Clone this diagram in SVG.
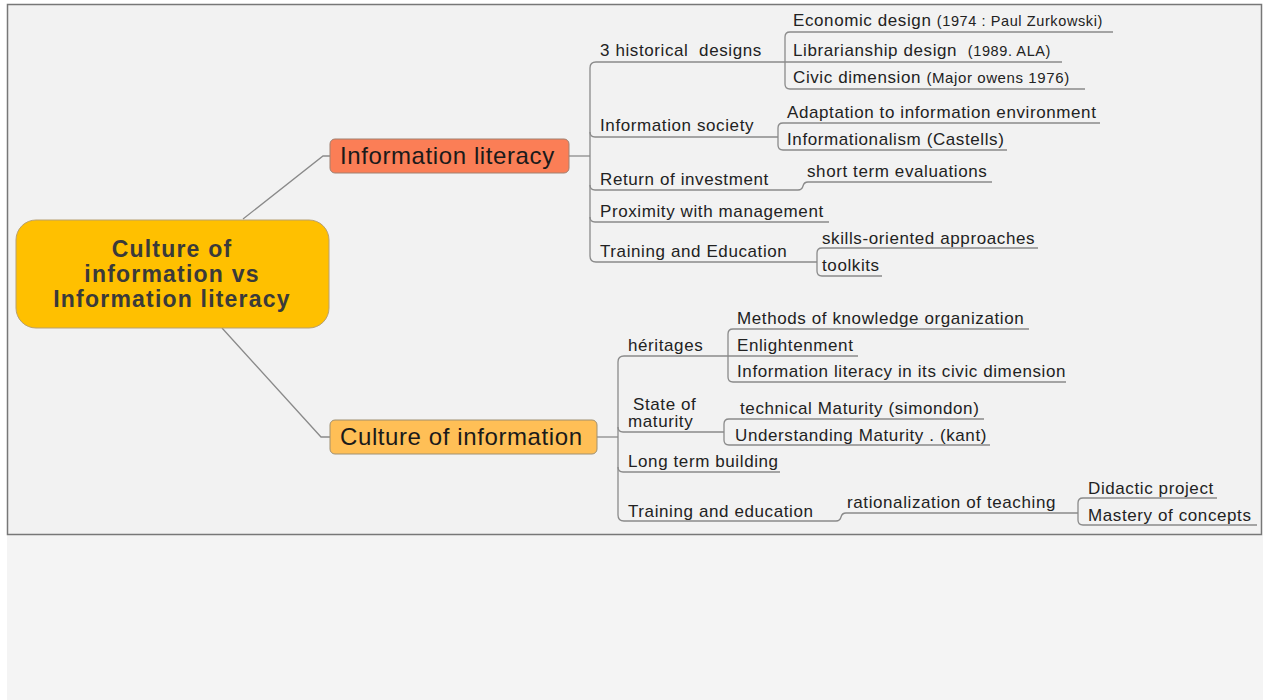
<svg xmlns="http://www.w3.org/2000/svg" width="1263" height="700" viewBox="0 0 1263 700">
<style>
.c{fill:none;stroke:#8a8a8a;stroke-width:1.3}
.t{font-family:"Liberation Sans",Arial,sans-serif;font-size:17px;letter-spacing:0.6px;fill:#222;white-space:pre}
.s{font-size:14.5px}
.n{font-family:"Liberation Sans",Arial,sans-serif;font-size:24px;letter-spacing:0.6px;fill:#1a1a1a}
.r{font-family:"Liberation Sans",Arial,sans-serif;font-size:23px;font-weight:bold;letter-spacing:1.2px;fill:#3a3a3a;text-anchor:middle}
</style>
<rect x="0" y="0" width="1263" height="700" fill="#ffffff"/>
<rect x="7" y="535" width="1256" height="165" fill="#f4f4f4"/>
<rect x="7.5" y="4.5" width="1254" height="530" fill="#f2f2f2" stroke="#777" stroke-width="1.5"/>

<g id="connectors">
  <path class="c" d="M243,219 L323,156 H330"/>
  <path class="c" d="M222,328 L321,437 H330"/>
  <!-- Information literacy branch -->
  <path class="c" d="M569,156 H590"/>
  <path class="c" d="M596,62 Q590,62 590,68 V256 Q590,262 596,262"/>
  <path class="c" d="M596,62 H1062"/>
  <path class="c" d="M590,132 Q590,137 595,137 H778"/>
  <path class="c" d="M590,185 Q590,190 595,190 H798 Q802,190 803,186 Q804,182 808,182 H992"/>
  <path class="c" d="M590,217 Q590,222 595,222 H829"/>
  <path class="c" d="M596,262 H817"/>
  <!-- 3 historical sub -->
  <path class="c" d="M790,32 Q785,32 785,37 V84 Q785,89 790,89"/>
  <path class="c" d="M790,32 H1113"/>
  <path class="c" d="M790,89 H1085"/>
  <!-- information society sub -->
  <path class="c" d="M783,123 Q778,123 778,128 V145 Q778,150 783,150"/>
  <path class="c" d="M783,123 H1100"/>
  <path class="c" d="M783,150 H1007"/>
  <!-- training sub -->
  <path class="c" d="M822,248 Q817,248 817,253 V271 Q817,276 822,276"/>
  <path class="c" d="M822,248 H1038"/>
  <path class="c" d="M822,276 H882"/>
  <!-- Culture of information branch -->
  <path class="c" d="M597,437 H618"/>
  <path class="c" d="M624,356 Q618,356 618,362 V515 Q618,521 624,521"/>
  <path class="c" d="M624,356 H858"/>
  <path class="c" d="M618,427 Q618,432 623,432 H724"/>
  <path class="c" d="M618,467 Q618,472 623,472 H780"/>
  <path class="c" d="M624,521 H836 Q840,521 841,517 Q842,513 846,513 H1078"/>
  <!-- heritages sub -->
  <path class="c" d="M733,329 Q728,329 728,334 V377 Q728,382 733,382"/>
  <path class="c" d="M733,329 H1029"/>
  <path class="c" d="M733,382 H1066"/>
  <!-- maturity sub -->
  <path class="c" d="M729,419 Q724,419 724,424 V440 Q724,445 729,445"/>
  <path class="c" d="M729,419 H984"/>
  <path class="c" d="M729,445 H990"/>
  <!-- rationalization sub -->
  <path class="c" d="M1083,498 Q1078,498 1078,503 V520 Q1078,525 1083,525"/>
  <path class="c" d="M1083,498 H1217"/>
  <path class="c" d="M1083,525 H1257"/>
</g>

<g id="root">
  <rect x="16" y="220" width="313" height="108" rx="20" fill="#ffc000" stroke="#b8a070" stroke-width="1"/>
  <text class="r" x="172" y="257">Culture of</text>
  <text class="r" x="172" y="282">information vs</text>
  <text class="r" x="172" y="307">Information literacy</text>
</g>

<g id="information-literacy">
  <rect x="330" y="139" width="239" height="34" rx="5" fill="#fb7e56" stroke="#a08070" stroke-width="1"/>
  <text class="n" x="340" y="164">Information literacy</text>
</g>

<g id="culture-of-information">
  <rect x="330" y="420" width="267" height="34" rx="5" fill="#ffbf56" stroke="#a09070" stroke-width="1"/>
  <text class="n" x="340" y="445">Culture of information</text>
</g>

<g id="il-3-historical"><text class="t" x="600" y="56">3 historical  designs</text></g>
<g id="il-economic"><text class="t" x="793" y="26">Economic design <tspan class="s">(1974 : Paul Zurkowski)</tspan></text></g>
<g id="il-librarianship"><text class="t" x="793" y="56">Librarianship design  <tspan class="s">(1989. ALA)</tspan></text></g>
<g id="il-civic"><text class="t" x="793" y="83">Civic dimension <tspan style="font-size:15px">(Major owens 1976)</tspan></text></g>
<g id="il-info-society"><text class="t" x="600" y="131">Information society</text></g>
<g id="il-adaptation"><text class="t" x="787" y="118">Adaptation to information environment</text></g>
<g id="il-informationalism"><text class="t" x="787" y="145">Informationalism (Castells)</text></g>
<g id="il-return"><text class="t" x="600" y="185">Return of investment</text></g>
<g id="il-short-term"><text class="t" x="807" y="177">short term evaluations</text></g>
<g id="il-proximity"><text class="t" x="600" y="217">Proximity with management</text></g>
<g id="il-training"><text class="t" x="600" y="257">Training and Education</text></g>
<g id="il-skills"><text class="t" x="822" y="244">skills-oriented approaches</text></g>
<g id="il-toolkits"><text class="t" x="822" y="271">toolkits</text></g>

<g id="ci-heritages"><text class="t" x="628" y="351">héritages</text></g>
<g id="ci-methods"><text class="t" x="737" y="324">Methods of knowledge organization</text></g>
<g id="ci-enlightenment"><text class="t" x="737" y="351">Enlightenment</text></g>
<g id="ci-il-civic"><text class="t" x="737" y="377">Information literacy in its civic dimension</text></g>
<g id="ci-maturity"><text class="t" x="633" y="410">State of</text><text class="t" x="628" y="427">maturity</text></g>
<g id="ci-technical"><text class="t" x="740" y="414">technical Maturity (simondon)</text></g>
<g id="ci-understanding"><text class="t" x="735" y="441">Understanding Maturity . (kant)</text></g>
<g id="ci-long-term"><text class="t" x="628" y="467">Long term building</text></g>
<g id="ci-training"><text class="t" x="628" y="517">Training and education</text></g>
<g id="ci-rationalization"><text class="t" x="847" y="508">rationalization of teaching</text></g>
<g id="ci-didactic"><text class="t" x="1088" y="494">Didactic project</text></g>
<g id="ci-mastery"><text class="t" x="1088" y="521">Mastery of concepts</text></g>
</svg>
